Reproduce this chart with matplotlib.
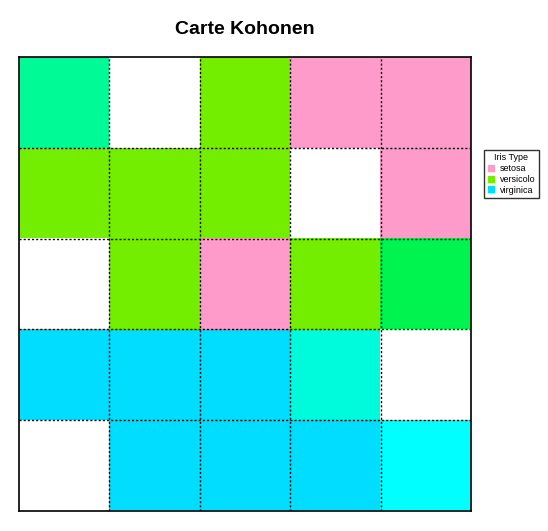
import numpy as np
import matplotlib.pyplot as plt
from matplotlib.colors import to_rgb
from matplotlib.lines import Line2D

plt.rcParams['font.family'] = ['Liberation Sans', 'DejaVu Sans']

# cell colours of the 5x5 map, top row first
grid_colors = [
    ['#00FA96', '#FFFFFF', '#74EE00', '#FF9BCA', '#FF9BCA'],
    ['#74EE00', '#74EE00', '#74EE00', '#FFFFFF', '#FF9BCA'],
    ['#FFFFFF', '#74EE00', '#FF9BCA', '#74EE00', '#00F450'],
    ['#00DDFF', '#00DDFF', '#00DDFF', '#00FADC', '#FFFFFF'],
    ['#FFFFFF', '#00DDFF', '#00DDFF', '#00DDFF', '#00FFFF'],
]
legend_labels = ['setosa', 'versicolo', 'virginica']
legend_colors = ['#FF9BCA', '#74EE00', '#00DDFF']

img = np.array([[to_rgb(c) for c in row] for row in grid_colors])

fig = plt.figure(figsize=(5.48, 5.31), dpi=100)
ax = fig.add_axes([19/548, 20/531, 452/548, 454/531])
ax.imshow(img, extent=(0, 5, 0, 5), aspect='auto', interpolation='nearest')
for k in range(1, 5):
    ax.axvline(k, color='black', lw=1, ls=(0, (1.5, 1.5)))
    ax.axhline(k, color='black', lw=1, ls=(0, (1.5, 1.5)))
ax.set_xlim(0, 5)
ax.set_ylim(0, 5)
ax.set_xticks([])
ax.set_yticks([])
for s in ax.spines.values():
    s.set_linewidth(1.2)

fig.text(245/548, 1 - 30/531, 'Carte Kohonen', ha='center', va='center',
         fontsize=14, fontweight='bold')

handles = [Line2D([], [], marker='s', ls='', color=c, markersize=4) for c in legend_colors]
leg = fig.legend(handles, legend_labels, title='Iris Type', loc='upper left',
                 bbox_to_anchor=(479/548, 1 - 145/531), fontsize=6.5,
                 title_fontsize=6.5, frameon=True, fancybox=False,
                 edgecolor='black', handlelength=0.8, handletextpad=0.6,
                 labelspacing=0.2, borderpad=0.4)
leg.get_frame().set_linewidth(1)

fig.savefig('out.png', dpi=100)
